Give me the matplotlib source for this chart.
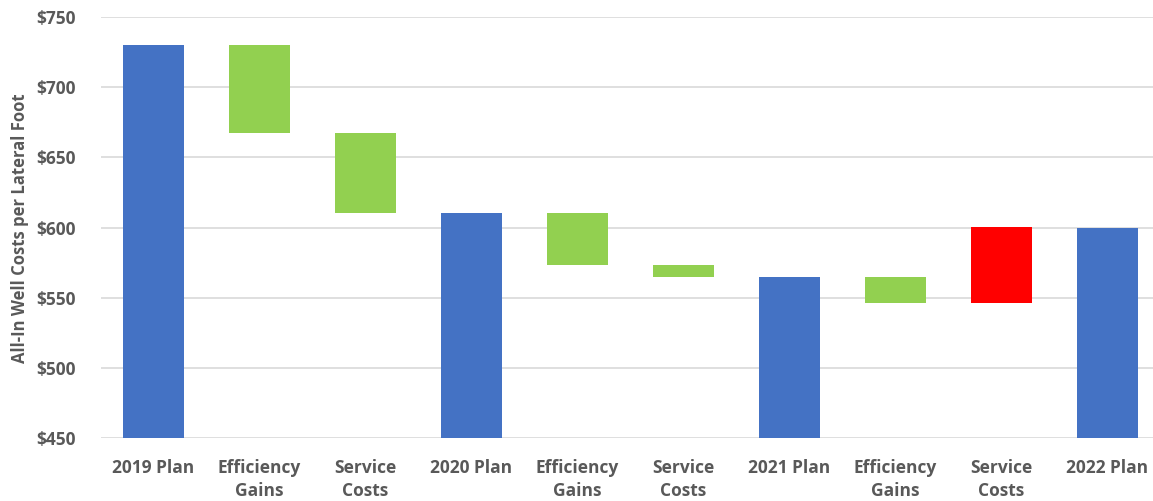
import matplotlib.pyplot as plt

# Datos del gráfico de cascada
categorias = ["2019 Plan", "Efficiency\nGains", "Service\nCosts", "2020 Plan",
              "Efficiency\nGains", "Service\nCosts", "2021 Plan", "Efficiency\nGains",
              "Service\nCosts", "2022 Plan"]
inicio = [450, 730, 667, 450, 610, 573, 450, 565, 546, 450]
fin = [730, 667, 610, 610, 573, 565, 565, 546, 600, 600]
tipo = ["total", "down", "down", "total", "down", "down", "total", "down", "up", "total"]

colores = {"total": "#4472C4", "down": "#92D050", "up": "#FF0000"}

fig = plt.figure(figsize=(11.53, 5.01), dpi=100)
ax = fig.add_axes([100.5 / 1153, 1 - 438 / 501, 1 - 100.5 / 1153, (438 - 17) / 501])

x = range(len(categorias))
abajo = [min(a, b) for a, b in zip(inicio, fin)]
altura = [abs(b - a) for a, b in zip(inicio, fin)]
ax.bar(x, altura, bottom=abajo, width=0.575, color=[colores[t] for t in tipo], zorder=3)

ax.set_ylim(450, 750)
ax.set_xlim(-0.5, 9.5 - 7.5 / 106)
ax.set_yticks(range(450, 751, 50))
ax.set_yticklabels([f"${v}" for v in range(450, 751, 50)])
ax.set_xticks(list(x))
ax.set_xticklabels(categorias)

ax.grid(axis="y", color="#D9D9D9", linewidth=1.2, zorder=0)
for s in ax.spines.values():
    s.set_visible(False)
ax.tick_params(length=0, labelsize=12.5, labelcolor="#595959")
ax.tick_params(axis="y", pad=18)
ax.tick_params(axis="x", pad=15)
for lbl in ax.get_xticklabels() + ax.get_yticklabels():
    lbl.set_fontfamily("Open Sans")
    lbl.set_fontweight("bold")
for lbl in ax.get_xticklabels():
    lbl.set_linespacing(1.35)

fig.text(20 / 1153, 1 - 228 / 501, "All-In Well Costs per Lateral Foot", rotation=90,
         ha="center", va="center", fontsize=12, fontweight="bold", color="#595959",
         fontfamily="Open Sans")

fig.savefig("out.png", dpi=100)
